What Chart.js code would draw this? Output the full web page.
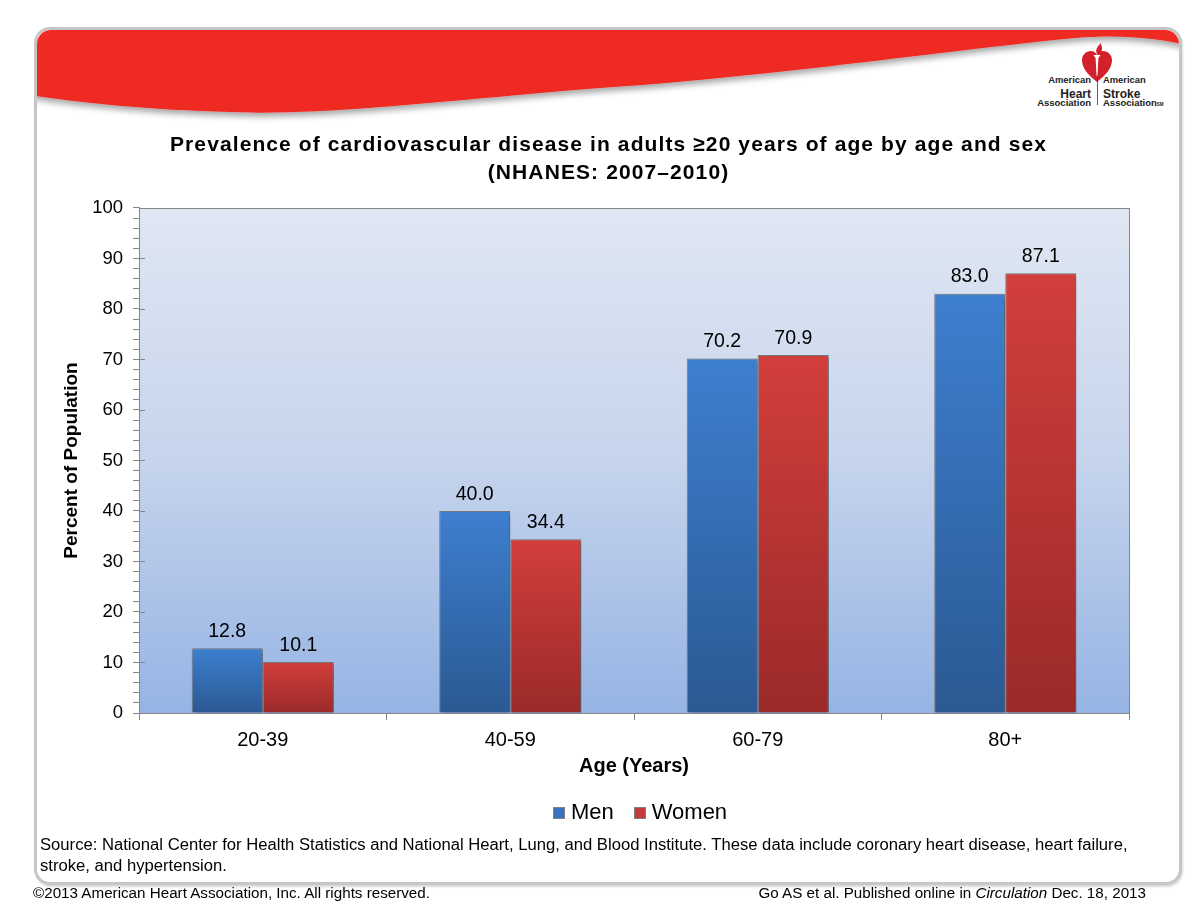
<!DOCTYPE html>
<html>
<head>
<meta charset="utf-8">
<script src="https://cdn.jsdelivr.net/npm/chart.js@4.4.0/dist/chart.umd.min.js"></script>
<style>
  html, body { margin: 0; padding: 0; background: #fff; width: 1203px; height: 901px; overflow: hidden; }
  body { position: relative; font-family: "Liberation Sans", Arial, sans-serif; }
  #frame { position: absolute; left: 34px; top: 27px; width: 1142px; height: 852px; border: 3px solid #c6c6c6; border-radius: 16px; overflow: hidden; background: #fff; box-shadow: 1px 2px 2px rgba(0,0,0,0.15); }
  #deco { position: absolute; left: 0; top: 0; }
  #wrap { position: absolute; left: 0; top: 0; width: 1203px; height: 901px; }
  .txt { position: absolute; color: #000; white-space: nowrap; }
  #source { left: 40px; top: 834px; font-size: 16.65px; line-height: 21px; white-space: normal; width: 1100px; }
  #copy { left: 33px; top: 884px; font-size: 15.2px; }
  #cite { right: 57px; top: 884px; font-size: 15.2px; }
</style>
</head>
<body>
<div id="frame"></div>
<svg id="deco" width="1203" height="901" viewBox="0 0 1203 901">
  <defs>
    <clipPath id="fc"><rect x="37" y="30" width="1142" height="852" rx="14" ry="14"/></clipPath>
    <filter id="sh" x="-5%" y="-20%" width="110%" height="160%">
      <feGaussianBlur in="SourceAlpha" stdDeviation="3"/>
      <feOffset dx="0" dy="4" result="b"/>
      <feComponentTransfer><feFuncA type="linear" slope="0.35"/></feComponentTransfer>
      <feMerge><feMergeNode/><feMergeNode in="SourceGraphic"/></feMerge>
    </filter>
  </defs>
  <g clip-path="url(#fc)">
    <path filter="url(#sh)" fill="#ee2a24" d="M30,20 H1190 V46 C1160,38 1120,34 1075,38 C950,50 760,78 600,88 C450,100 320,116 230,112 C150,110 80,103 30,95 Z"/>
  </g>
  <!-- logo -->
  <g>
    <path fill="#d4202a" d="M1097,82 C1088,75 1082,68 1082,60 C1082,55 1086,51 1091,51 C1094,51 1096,53 1097,55 C1098,53 1100,51 1103,51 C1108,51 1112,55 1112,60 C1112,68 1106,75 1097,82 Z"/>
    <path fill="#fff" d="M1093.5,55 H1100.5 L1098.4,58 L1097.6,74 L1097,77 L1096.4,74 L1095.6,58 Z"/>
    <path fill="#d4202a" d="M1097,54 C1095,50 1097,47 1101,43 C1101,46 1104,49 1100,54 Z"/>
    <line x1="1097.5" y1="77" x2="1097.5" y2="105" stroke="#333" stroke-width="0.8"/>
    <g font-family="Liberation Sans, Arial, sans-serif" font-weight="bold" fill="#222">
      <text x="1091" y="83" font-size="9.4" text-anchor="end">American</text>
      <text x="1091" y="97.5" font-size="12" text-anchor="end">Heart</text>
      <text x="1091" y="105.5" font-size="9.5" text-anchor="end">Association</text>
      <text x="1103" y="83" font-size="9.4">American</text>
      <text x="1103" y="97.5" font-size="12">Stroke</text>
      <text x="1103" y="105.5" font-size="9.5">Association<tspan font-size="4.5">SM</tspan></text>
    </g>
  </g>
</svg>
<div id="wrap"><canvas id="c" width="1203" height="901"></canvas></div>
<div class="txt" id="source">Source: National Center for Health Statistics and National Heart, Lung, and Blood Institute. These data include coronary heart disease, heart failure, stroke, and hypertension.</div>
<div class="txt" id="copy">©2013 American Heart Association, Inc. All rights reserved.</div>
<div class="txt" id="cite">Go AS et al. Published online in <i>Circulation</i> Dec. 18, 2013</div>
<script>
// ---- data ----
const categories = ["20-39", "40-59", "60-79", "80+"];
const menValues = [12.8, 40.0, 70.2, 83.0];
const womenValues = [10.1, 34.4, 70.9, 87.1];
const seriesNames = ["Men", "Women"];
const titleLines = ["Prevalence of cardiovascular disease in adults \u226520 years of age by age and sex", "(NHANES: 2007\u20132010)"];
const yAxisTitle = "Percent of Population";
const xAxisTitle = "Age (Years)";

const FONT = "'Liberation Sans', Arial, sans-serif";
const legendColors = ['#3a72c0', '#c23b39'];

function barGradient(top, bottom) {
  return function (context) {
    const chart = context.chart;
    if (!chart.chartArea) return top;
    const ys = chart.scales.y;
    const y0 = ys.getPixelForValue(context.raw);
    const y1 = ys.getPixelForValue(0);
    const g = chart.ctx.createLinearGradient(0, y0, 0, y1);
    g.addColorStop(0, top);
    g.addColorStop(1, bottom);
    return g;
  };
}

const titleSpacing = {
  id: 'titleSpacing',
  afterInit(chart) {
    const tb = chart.titleBlock;
    if (!tb) return;
    const orig = tb.draw.bind(tb);
    tb.draw = function () {
      chart.ctx.save();
      chart.ctx.letterSpacing = '1.1px';
      chart.ctx.translate(19, 0);
      orig();
      chart.ctx.restore();
    };
  }
};

const plotBg = {
  id: 'plotBg',
  beforeDatasetsDraw(chart) {
    const { ctx, chartArea: a } = chart;
    ctx.save();
    const g = ctx.createLinearGradient(0, a.top, 0, a.bottom);
    g.addColorStop(0, '#e0e7f3');
    g.addColorStop(0.5, '#c6d4ec');
    g.addColorStop(1, '#96b4e4');
    ctx.fillStyle = g;
    ctx.fillRect(a.left, a.top, a.right - a.left, a.bottom - a.top);
    ctx.strokeStyle = '#868686';
    ctx.lineWidth = 1;
    ctx.strokeRect(Math.round(a.left) + 0.5, Math.round(a.top) + 0.5, Math.round(a.right - a.left), Math.round(a.bottom - a.top));
    const ys = chart.scales.y;
    ctx.beginPath();
    for (let v = 0; v <= 100; v += 10) {
      const y = Math.round(ys.getPixelForValue(v)) + 0.5;
      ctx.moveTo(a.left, y);
      ctx.lineTo(a.left + 6, y);
    }
    ctx.stroke();
    ctx.restore();
    ctx.save();
    ctx.shadowColor = 'rgba(0,0,0,0.35)';
    ctx.shadowBlur = 4;
    ctx.shadowOffsetX = 3;
    ctx.shadowOffsetY = 2;
  },
  afterDatasetsDraw(chart) {
    chart.ctx.restore();
  }
};

const dataLabels = {
  id: 'dataLabels',
  afterDatasetsDraw(chart) {
    const ctx = chart.ctx;
    ctx.save();
    ctx.font = '19.5px ' + FONT;
    ctx.fillStyle = '#000';
    ctx.textAlign = 'center';
    ctx.textBaseline = 'bottom';
    chart.data.datasets.forEach((ds, i) => {
      const meta = chart.getDatasetMeta(i);
      meta.data.forEach((el, j) => {
        ctx.fillText(ds.data[j].toFixed(1), el.x, el.y - 7);
      });
    });
    ctx.restore();
  }
};

const bottomLegend = {
  id: 'bottomLegend',
  afterDraw(chart) {
    const ctx = chart.ctx;
    const a = chart.chartArea;
    ctx.save();
    ctx.font = '22px ' + FONT;
    ctx.textBaseline = 'middle';
    ctx.textAlign = 'left';
    const box = 12, gapText = 6, gapItem = 20;
    const items = chart.data.datasets.map((ds, i) => ({ text: ds.label, color: legendColors[i], w: ctx.measureText(ds.label).width }));
    let total = 0;
    items.forEach((it, i) => { total += box + gapText + it.w + (i < items.length - 1 ? gapItem : 0); });
    let x = (a.left + a.right) / 2 + 6 - total / 2;
    const yc = 813;
    items.forEach((it) => {
      ctx.fillStyle = it.color;
      ctx.fillRect(Math.round(x), yc - 6, box, box);
      ctx.strokeStyle = '#808080';
      ctx.lineWidth = 1;
      ctx.strokeRect(Math.round(x) + 0.5, yc - 6 + 0.5, box - 1, box - 1);
      x += box + gapText;
      ctx.fillStyle = '#000';
      ctx.fillText(it.text, x, yc);
      x += it.w + gapItem;
    });
    ctx.restore();
  }
};

new Chart(document.getElementById('c'), {
  type: 'bar',
  data: {
    labels: categories,
    datasets: [
      { label: seriesNames[0], data: menValues, backgroundColor: barGradient('#3d7fcf', '#2b5993'), borderColor: '#7a7a7a', borderWidth: 1 },
      { label: seriesNames[1], data: womenValues, backgroundColor: barGradient('#d23e3b', '#9a2a29'), borderColor: '#7a7a7a', borderWidth: 1 }
    ]
  },
  options: {
    responsive: false,
    animation: false,
    devicePixelRatio: 1,
    layout: { padding: { left: 50, right: 74, top: 131, bottom: 123 } },
    datasets: { bar: { categoryPercentage: 0.574, barPercentage: 1.0 } },
    plugins: {
      title: {
        display: true,
        text: titleLines,
        color: '#000',
        font: { family: FONT, size: 21, weight: 'bold', lineHeight: 1.3333 },
        padding: { top: 0, bottom: 21 }
      },
      legend: { display: false },
      tooltip: { enabled: false }
    },
    scales: {
      x: {
        offset: true,
        afterFit(scale) { scale.height = 65; },
        grid: { display: true, offset: true, drawOnChartArea: false, tickLength: 7, color: '#868686' },
        border: { display: true, color: '#868686' },
        ticks: { color: '#000', font: { family: FONT, size: 20 }, padding: 8 },
        title: { display: true, text: xAxisTitle, color: '#000', font: { family: FONT, size: 20, weight: 'bold' }, padding: { top: 2, bottom: 0 } }
      },
      y: {
        min: 0,
        max: 100,
        afterFit(scale) { scale.width = 89; },
        grid: { display: true, drawOnChartArea: false, tickLength: 6, color: '#868686' },
        border: { display: true, color: '#868686' },
        ticks: {
          stepSize: 2,
          autoSkip: false,
          color: '#000',
          font: { family: FONT, size: 18.5 },
          padding: 10,
          callback(v) { return v % 10 === 0 ? String(v) : ''; }
        },
        title: { display: true, text: yAxisTitle, color: '#000', font: { family: FONT, size: 19, weight: 'bold' }, padding: { top: 10.6, bottom: 0 } }
      }
    }
  },
  plugins: [titleSpacing, plotBg, dataLabels, bottomLegend]
});
</script>
</body>
</html>
